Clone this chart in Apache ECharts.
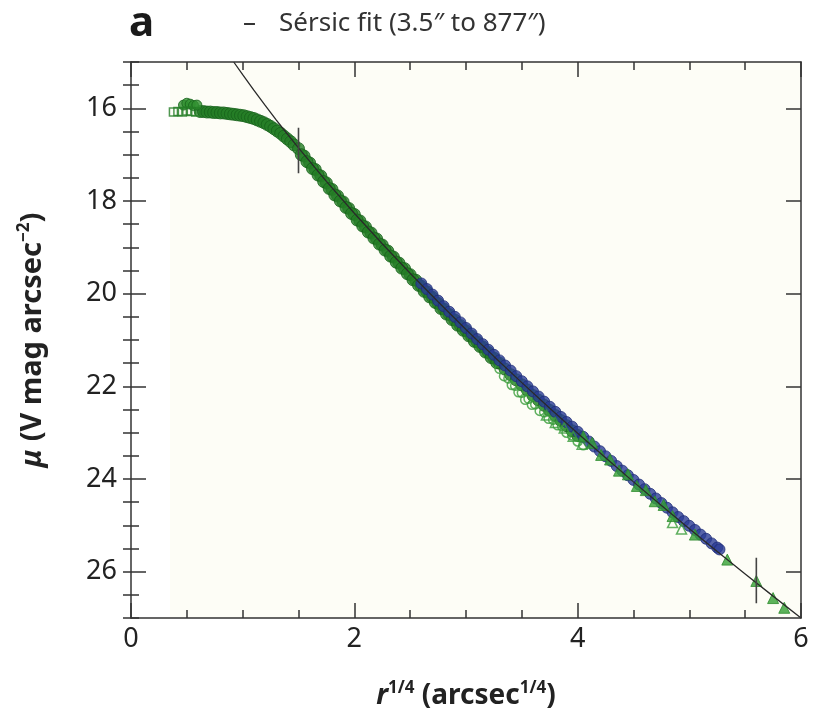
<!DOCTYPE html>
<html><head><meta charset="utf-8">
<script src="https://cdn.jsdelivr.net/npm/echarts@6/dist/echarts.min.js"></script>
<style>html,body{margin:0;padding:0;background:#fff}#c{width:813px;height:716px}</style>
</head><body><div id="c"></div>
<script>
// ---- data ----
const xTicks = [0, 2, 4, 6];
const yTicks = [16, 18, 20, 22, 24, 26];

// core: open squares
const sqX = [0.38, 0.42, 0.46, 0.50, 0.54, 0.58];
const sqY = [16.08, 16.07, 16.08, 16.06, 16.07, 16.08];
// core bump: filled circles
const bumpX = [0.47, 0.50, 0.53, 0.56, 0.59];
const bumpY = [15.93, 15.89, 15.91, 15.94, 15.93];
// green filled circles (main band)
const gX = [0.62,0.65,0.68,0.71,0.74,0.77,0.80,0.83,0.86,0.89,0.92,0.95,0.98,1.01,1.04,1.07,1.10,1.13,1.16,1.19,1.22,1.25,1.28,1.31,1.34,1.37,1.40,1.43,1.46,1.50,
  1.55,1.60,1.65,1.70,1.75,1.80,1.85,1.90,1.95,2.00,2.05,2.10,2.15,2.20,2.25,2.30,2.35,2.40,2.45,2.50,2.55,2.60,2.65,2.70,2.75,2.80,2.85,2.90,2.95,3.00,3.05,3.10,3.15,3.20,3.25,3.30,
  3.35,3.40,3.45,3.50,3.55,3.60,3.65,3.70,3.75,3.80,3.85,3.90,3.95,4.00];
const gY = [16.07,16.07,16.08,16.08,16.09,16.09,16.10,16.10,16.11,16.12,16.13,16.14,16.15,16.16,16.18,16.20,16.22,16.25,16.28,16.31,16.35,16.39,16.44,16.49,16.54,16.60,16.66,16.72,16.79,16.87,
  17.03,17.18,17.32,17.46,17.61,17.75,17.89,18.02,18.16,18.29,18.43,18.56,18.69,18.82,18.95,19.08,19.21,19.34,19.46,19.59,19.71,19.84,19.96,20.08,20.21,20.33,20.45,20.57,20.69,20.80,20.92,21.04,21.15,21.27,21.39,21.50,
  21.63,21.75,21.86,21.97,22.08,22.20,22.30,22.41,22.52,22.63,22.74,22.85,22.96,23.06];
// second green profile (interleaved)
const g2X = [1.525,1.575,1.625,1.675,1.725,1.775,1.825,1.875,1.925,1.975,2.025,2.075,2.125,2.175,2.225,2.275,2.325,2.375,2.425,2.475,2.525,2.575,2.625,2.675,2.725,2.775,2.825,2.875,2.925,2.975,3.025,3.075,3.125,3.175,3.225,3.275];
const g2Y = [17.00,17.15,17.30,17.44,17.58,17.73,17.87,18.00,18.14,18.27,18.41,18.54,18.67,18.80,18.93,19.06,19.19,19.32,19.45,19.57,19.70,19.82,19.95,20.07,20.19,20.32,20.44,20.56,20.68,20.79,20.91,21.03,21.14,21.26,21.38,21.49];
// green open circles (scatter below the fit)
const oX = [3.30,3.34,3.38,3.41,3.44,3.47,3.50,3.53,3.56,3.59,3.62,3.66,3.70,3.74,3.78,3.82,3.86,3.90,3.95,4.00,4.05];
const oY = [21.62,21.78,21.83,21.97,21.99,22.13,22.14,22.29,22.27,22.40,22.39,22.53,22.56,22.70,22.72,22.84,22.86,23.00,23.06,23.19,23.27];
// blue filled circles
const bX = [2.60,2.65,2.70,2.75,2.80,2.85,2.90,2.95,3.00,3.05,3.10,3.15,3.20,3.25,3.30,3.35,3.40,3.45,3.50,3.55,3.60,3.65,3.70,3.75,3.80,3.85,3.90,3.95,4.00,
  4.05,4.10,4.15,4.20,4.25,4.30,4.35,4.40,4.45,4.50,4.55,4.60,4.65,4.70,4.75,4.80,4.85,4.90,4.95,5.00,5.05,5.10,5.15,5.20,5.25,5.27];
const bY = [19.78,19.90,20.02,20.15,20.27,20.39,20.50,20.62,20.74,20.86,20.98,21.09,21.21,21.32,21.44,21.55,21.66,21.78,21.89,22.00,22.11,22.22,22.33,22.44,22.55,22.66,22.77,22.87,22.98,
  23.09,23.19,23.30,23.40,23.51,23.61,23.72,23.82,23.92,24.02,24.12,24.22,24.32,24.42,24.52,24.62,24.72,24.82,24.91,25.01,25.10,25.20,25.29,25.39,25.48,25.52];
// green triangles
const tX = [4.05,4.13,4.21,4.29,4.37,4.45,4.53,4.61,4.69,4.77,4.85,5.05,5.34,5.60,5.75,5.85];
const tY = [23.08,23.22,23.48,23.58,23.82,23.90,24.15,24.24,24.48,24.56,24.80,25.20,25.74,26.20,26.57,26.78];
const toX = [3.72,3.80,3.88,3.96,4.04,4.85,4.93];
const toY = [22.62,22.78,22.90,23.08,23.25,24.94,25.08];
// Sersic fit line
const fitX = [0.92,1.0,1.1,1.2,1.3,1.4,1.5,1.75,2.0,2.25,2.5,2.75,3.0,3.25,3.5,3.75,4.0,4.25,4.5,4.75,5.0,5.25,5.5,5.75,6.0];
const fitY = [15.00,15.275,15.609,15.932,16.247,16.554,16.854,17.576,18.264,18.924,19.560,20.176,20.773,21.354,21.920,22.473,23.013,23.543,24.062,24.572,25.073,25.566,26.05,26.528,27.0];
// fit-range markers
const barX = [1.5, 5.6];
const barLo = [16.42, 25.70];
const barHi = [17.40, 26.68];

// ---- chart ----
const zip = (a, b) => a.map((v, i) => [v, b[i]]);
const FONT = '"Noto Sans", "Open Sans", sans-serif';
const GREEN = '#247d26', GREEN_D = '#17621a', BLUE = '#2a3c96', BLUE_D = '#1f2d78';
const AX = '#333';
const line = {show: true, onZero: false, lineStyle: {color: AX, width: 1.5}};

const chart = echarts.init(document.getElementById('c'), null, {renderer: 'canvas'});

const yBase = {type: 'value', min: 15, max: 27, inverse: true, z: 10, splitLine: {show: false}, axisLine: line};

const barSeries = barX.map((x, i) => ({
  type: 'line', data: [[x, barLo[i]], [x, barHi[i]]], symbol: 'none', silent: true,
  lineStyle: {color: '#444', width: 1.6}, z: 6
}));

chart.setOption({
  animation: false,
  backgroundColor: '#ffffff',
  grid: {left: 131, right: 12, top: 62, bottom: 98},
  xAxis: [
    {type: 'value', position: 'bottom', min: 0, max: 6, interval: 2, z: 10, axisLine: line,
     axisTick: {show: true, inside: true, length: 15, lineStyle: {color: AX, width: 1.5}},
     minorTick: {show: true, splitNumber: 4, length: 8, lineStyle: {color: AX, width: 1.5}},
     splitLine: {show: false}, minorSplitLine: {show: false},
     axisLabel: {fontSize: 27, color: '#222', margin: 8, fontFamily: FONT},
     name: '{r|r}{sup|1/4}{b| (arcsec}{sup|1/4}{b|)}', nameLocation: 'middle', nameGap: 62,
     nameTextStyle: {rich: {
       r: {fontFamily: FONT, fontWeight: 'bold', fontStyle: 'italic', fontSize: 28, color: '#222'},
       b: {fontFamily: FONT, fontWeight: 'bold', fontSize: 28, color: '#222'},
       sup: {fontFamily: FONT, fontWeight: 'bold', fontSize: 17, color: '#222', padding: [0, 0, 16, 0]}
     }}},
    {type: 'value', position: 'top', min: 0, max: 6, interval: 2, z: 10, axisLine: line,
     axisTick: {show: true, inside: true, length: 15, lineStyle: {color: AX, width: 1.5}},
     minorTick: {show: true, splitNumber: 4, length: 8, lineStyle: {color: AX, width: 1.5}},
     splitLine: {show: false}, axisLabel: {show: false}}
  ],
  yAxis: [
    Object.assign({}, yBase, {position: 'left',
      axisTick: {show: true, inside: true, length: 15, customValues: yTicks, lineStyle: {color: AX, width: 1.5}},
      axisLabel: {customValues: yTicks, fontSize: 27, color: '#222', margin: 14, fontFamily: FONT},
      name: '{mu|μ}{b| (V mag arcsec}{sup|−2}{b|)}', nameLocation: 'middle', nameGap: 82, nameRotate: 90,
      nameTextStyle: {rich: {
        mu: {fontFamily: FONT, fontWeight: 'bold', fontStyle: 'italic', fontSize: 29, color: '#222'},
        b: {fontFamily: FONT, fontWeight: 'bold', fontSize: 29, color: '#222'},
        sup: {fontFamily: FONT, fontWeight: 'bold', fontSize: 17, color: '#222', padding: [0, 0, 16, 0]}
      }}}),
    Object.assign({}, yBase, {position: 'left', interval: 0.5, axisLine: {show: false},
      axisTick: {show: true, inside: true, length: 8, lineStyle: {color: AX, width: 1.5}},
      axisLabel: {show: false}}),
    Object.assign({}, yBase, {position: 'right',
      axisTick: {show: true, inside: true, length: 15, customValues: yTicks, lineStyle: {color: AX, width: 1.5}},
      axisLabel: {show: false}}),
    Object.assign({}, yBase, {position: 'right', interval: 0.5, axisLine: {show: false},
      axisTick: {show: true, inside: true, length: 8, lineStyle: {color: AX, width: 1.5}},
      axisLabel: {show: false}})
  ],
  series: [
    {type: 'scatter', data: zip(gX, gY), symbol: 'circle', symbolSize: 12, z: 2,
     itemStyle: {color: GREEN, borderColor: GREEN_D, borderWidth: 1},
     markArea: {silent: true, z: 0, itemStyle: {color: '#fdfdf6'},
       data: [[{xAxis: 0.35, yAxis: 15}, {xAxis: 6, yAxis: 27}]]}},
    {type: 'scatter', data: zip(g2X, g2Y), symbol: 'circle', symbolSize: 12, z: 2,
     itemStyle: {color: GREEN, borderColor: GREEN_D, borderWidth: 1}},
    {type: 'scatter', data: zip(bumpX, bumpY), symbol: 'circle', symbolSize: 10, z: 2,
     itemStyle: {color: '#2f902f', borderColor: GREEN_D, borderWidth: 1}},
    {type: 'scatter', data: zip(sqX, sqY), symbol: 'rect', symbolSize: 8, z: 2,
     itemStyle: {color: 'rgba(255,255,255,0)', borderColor: GREEN, borderWidth: 1.5}},
    {type: 'scatter', data: zip(oX, oY), symbol: 'circle', symbolSize: 9, z: 2,
     itemStyle: {color: 'rgba(255,255,255,0)', borderColor: '#3a9c3b', borderWidth: 1.5}},
    {type: 'scatter', data: zip(bX, bY), symbol: 'circle', symbolSize: 11, z: 3,
     itemStyle: {color: BLUE, borderColor: BLUE_D, borderWidth: 1}},
    {type: 'scatter', data: zip(toX, toY), symbol: 'triangle', symbolSize: 10, z: 4,
     itemStyle: {color: 'rgba(255,255,255,0)', borderColor: '#3a9c3b', borderWidth: 1.5}},
    {type: 'scatter', data: zip(tX, tY), symbol: 'triangle', symbolSize: 11, z: 4,
     itemStyle: {color: '#35a035', borderColor: '#2a8a2a', borderWidth: 1}},
    {type: 'line', data: zip(fitX, fitY), symbol: 'none', smooth: false, silent: true, z: 5,
     lineStyle: {color: '#2a2a2a', width: 1.3}}
  ].concat(barSeries),
  graphic: [
    {type: 'text', x: 129, y: 24, style: {text: 'a', font: 'bold 42px ' + FONT, fill: '#1a1a1a', verticalAlign: 'middle'}},
    {type: 'text', x: 243, y: 24, style: {text: '–', font: '26px ' + FONT, fill: '#333', verticalAlign: 'middle'}},
    {type: 'text', x: 279, y: 24, style: {text: 'Sérsic fit (3.5″ to 877″)', font: '26px ' + FONT, fill: '#333', verticalAlign: 'middle'}},
    {type: 'text', x: 586, y: 113, style: {text: 'NGC 4472', font: '26px ' + FONT, fill: '#222', verticalAlign: 'middle'}},
    {type: 'text', x: 586, y: 153, style: {text: 'E2', font: '26px ' + FONT, fill: '#222', verticalAlign: 'middle'}},
    {type: 'text', x: 586, y: 192, style: {text: '{i|M}{s|VT}{t| = −23.24}', verticalAlign: 'middle', fill: '#222',
      rich: {i: {font: 'italic 26px ' + FONT, fill: '#222'},
             s: {font: '17px ' + FONT, fill: '#222', padding: [14, 0, 0, 0]},
             t: {font: '26px ' + FONT, fill: '#222'}}}},
    {type: 'text', x: 586, y: 231, style: {text: '{i|n}{t| = 5.99}', verticalAlign: 'middle', fill: '#222',
      rich: {i: {font: 'italic 26px ' + FONT, fill: '#222'}, t: {font: '26px ' + FONT, fill: '#222'}}}},
    {type: 'text', x: 692, y: 219, style: {text: '+0.31', font: '17px ' + FONT, fill: '#222', verticalAlign: 'middle'}},
    {type: 'text', x: 692, y: 241, style: {text: '−0.29', font: '17px ' + FONT, fill: '#222', verticalAlign: 'middle'}},
    {type: 'text', x: 181, y: 548, style: {text: 'Core', font: '46px "Liberation Serif", "Times New Roman", serif', fill: '#ff0000', verticalAlign: 'middle'}}
  ]
});
</script></body></html>
